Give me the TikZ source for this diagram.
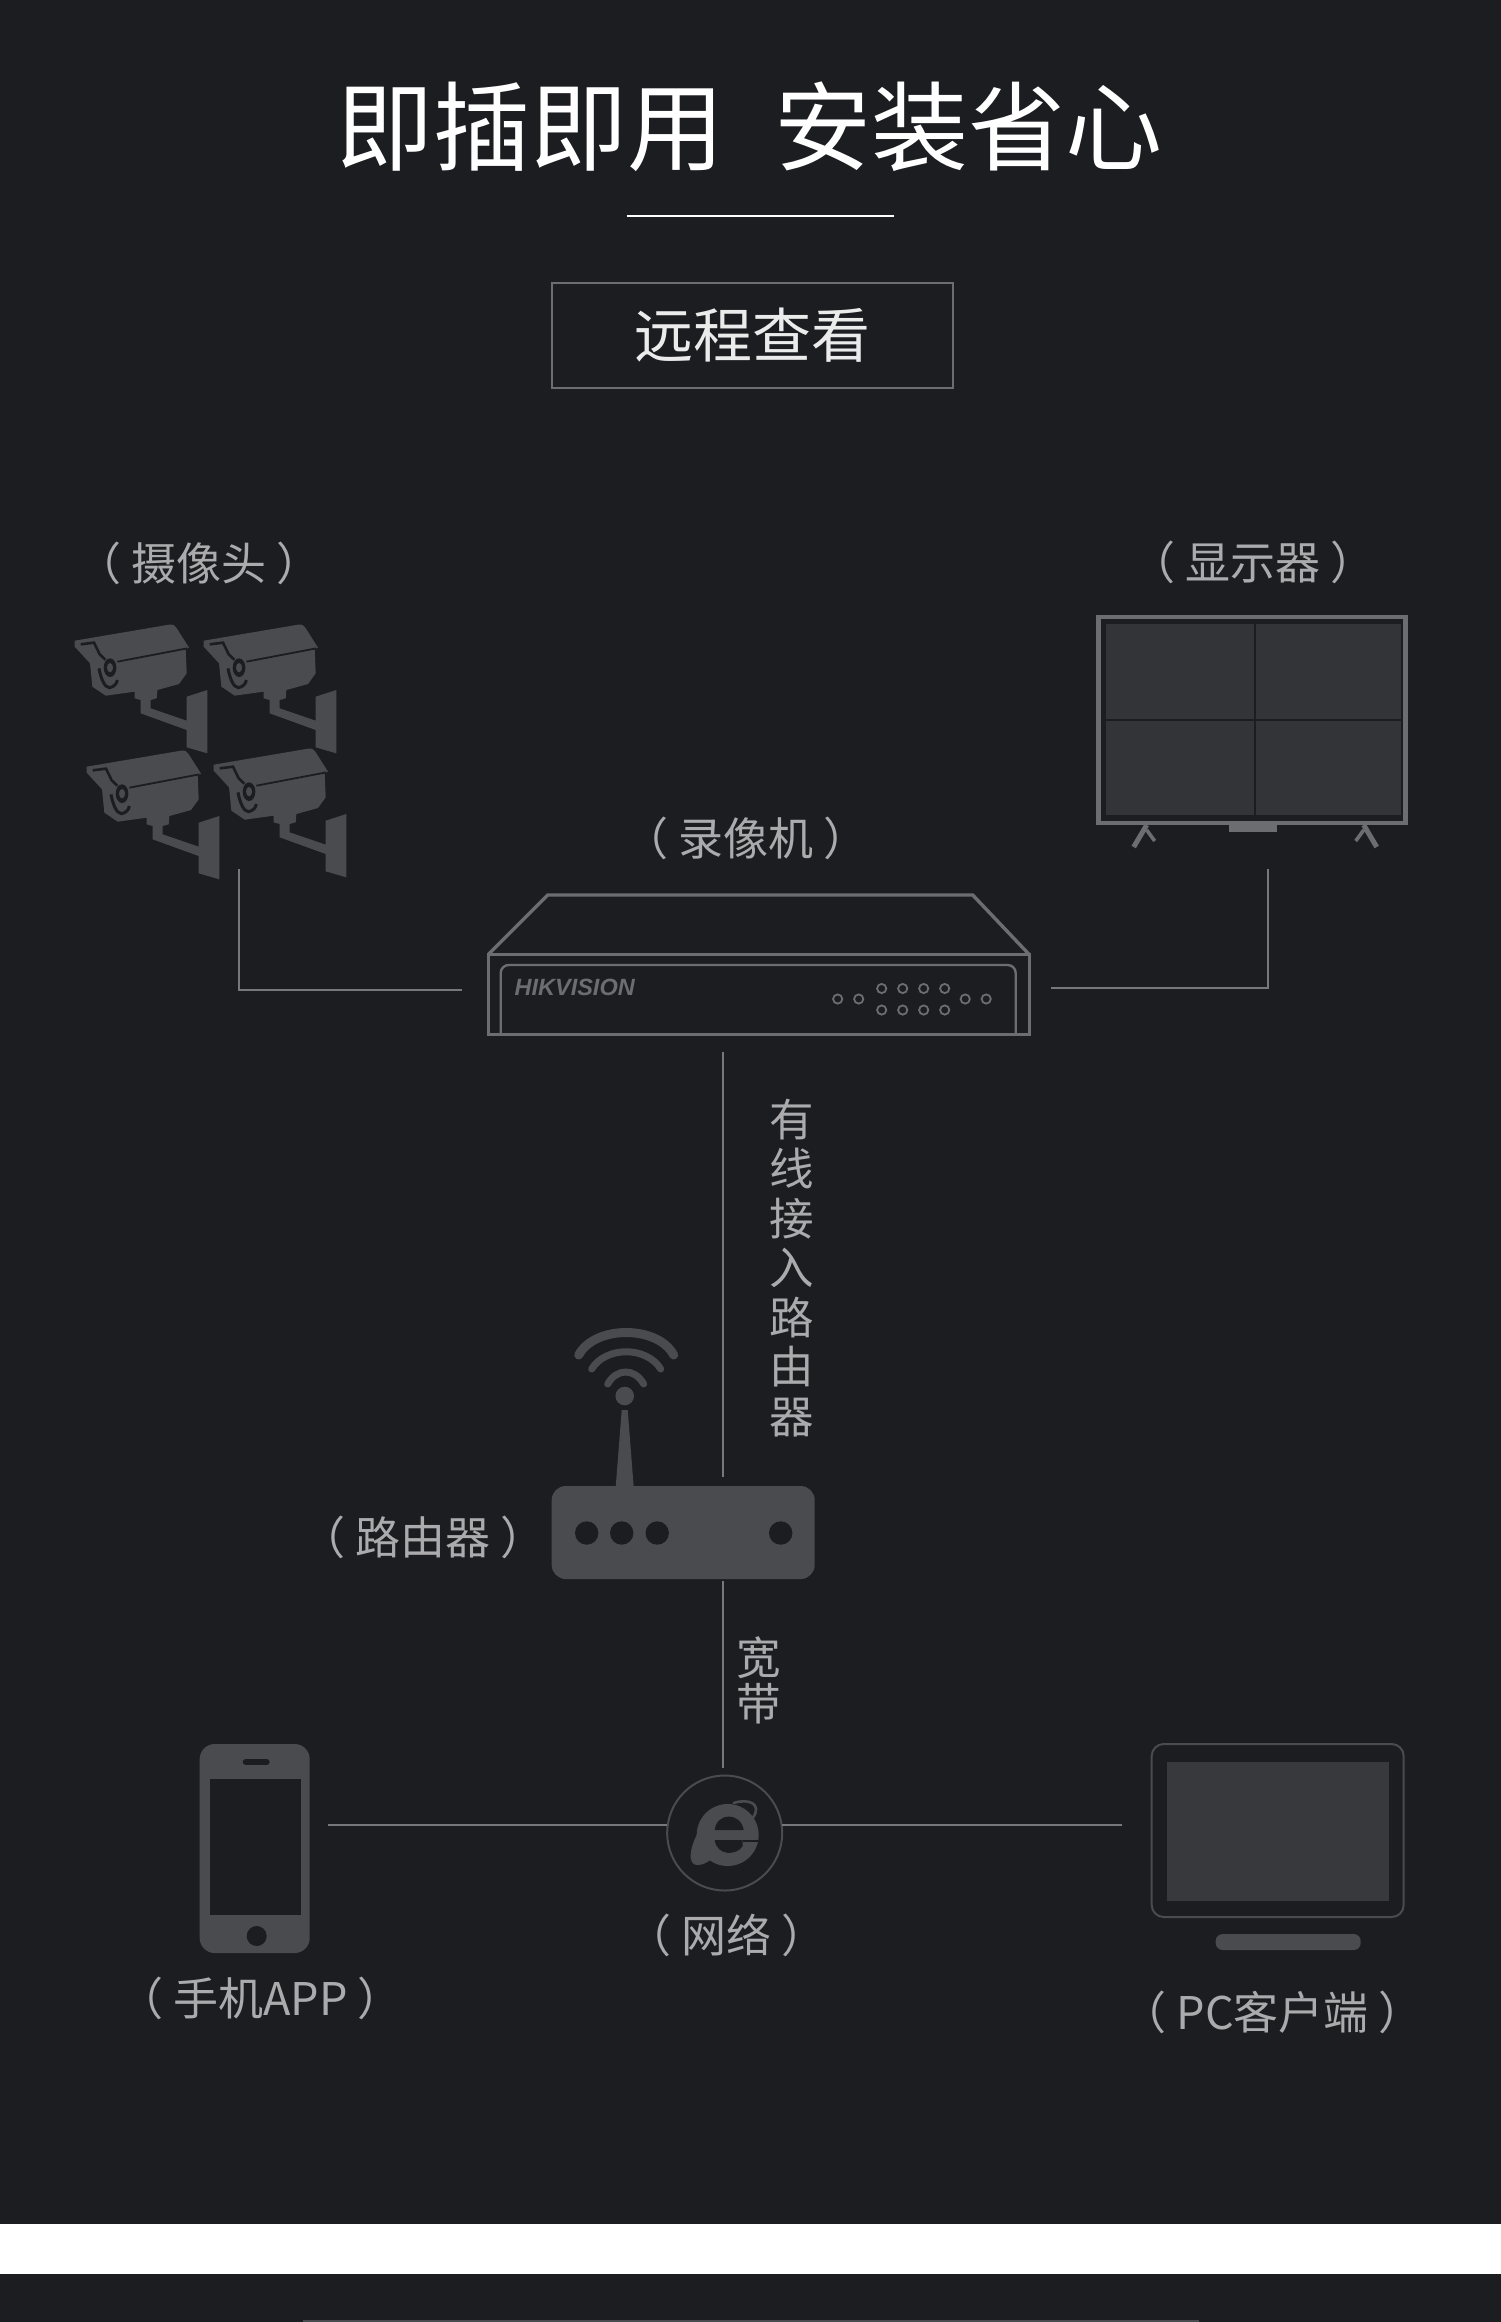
\documentclass[tikz,border=0pt]{standalone}
\usepackage{fontspec}
\setmainfont{Noto Sans CJK SC}
\newfontfamily\logofont{Liberation Sans}
\usetikzlibrary{positioning}
\definecolor{bgdark}{HTML}{1C1D21}
\definecolor{icongray}{HTML}{4A4B4F}
\definecolor{linegray}{HTML}{77787B}
\definecolor{framegray}{HTML}{6C6D70}
\definecolor{textgray}{HTML}{ABABAD}
\definecolor{screengray}{HTML}{333438}
\tikzstyle{devlabel} = [text=textgray, font=\fontsize{45}{50}\selectfont, inner sep=0pt, outer sep=0pt]
\tikzstyle{vlabel} = [devlabel, align=center]
\tikzstyle{link} = [draw=linegray, line width=1.8pt]
\tikzstyle{frame} = [draw=framegray, line width=3.4pt, line join=miter]
\tikzstyle{iconfill} = [fill=icongray, draw=none]
\tikzstyle{hole} = [fill=bgdark, draw=none]
\tikzstyle{led} = [draw=framegray, line width=1.8pt, fill=none]
\tikzstyle{box} = [rectangle, inner sep=0pt, outer sep=0pt]
\tikzset{
    pics/cctv/.style={code={
        \begin{scope}[scale=1/3]
            \fill[icongray] (0,47) -- (283,-1) .. controls (295,-3) and (302,2) .. (305,8) -- (343,68) -- (333,73) -- (336,145) -- (313,177) -- (248,195) -- (246,220) -- (228,225) -- (228,250) -- (336,287) -- (336,215) -- (398,195) -- (398,385) -- (336,367) -- (336,315) -- (198,265) -- (198,225) -- (180,220) -- (180,200) -- (93,212) -- (53,185) -- (46,115) -- (0,65) -- cycle;
            \draw[bgdark, line width=1.8pt] (128,110) -- (338,70);
            \draw[bgdark, line width=2.6pt] (18,58) -- (58,53) -- (75,88) -- (92,104);
            \draw[bgdark, line width=3pt] (73,130) .. controls (78,160) and (90,188) .. (104,188) .. controls (116,186) and (126,178) .. (128,165);
            \fill[bgdark] (106,128) circle [x radius=19, y radius=28];
            \fill[icongray] (106,128) circle [x radius=9, y radius=14];
        \end{scope}
    }}
}

\begin{document}
\begin{tikzpicture}[x=1pt, y=-1pt]
    \useasboundingbox (-0.7,0) rectangle (1499.3,2322);
    \fill[bgdark] (-4,-4) rectangle (1504,2326);
    \fill[white] (-4,2224) rectangle (1504,2274);
    \fill[icongray] (302,2320) rectangle (1198,2326);

    \node[box, text=white, font=\fontsize{97}{100}\selectfont] (TITLE) at (749,127) {即插即用 \hspace{28pt}安装省心};
    \draw[white, line width=1.6pt] (626,216) -- (893,216);
    \node[box, draw=framegray, line width=1.6pt, minimum width=401pt, minimum height=105pt, text=white!92!black, font=\fontsize{59}{60}\selectfont] (REMOTE) at (751.5,335.5) {\raisebox{1pt}{远程查看}};

    \node[devlabel] (CAMLABEL) at (198,563) {（ 摄像头 ）};
    \foreach \camx/\camy in {74/625, 203/625, 86/751, 213/749}
        \pic at (\camx,\camy) {cctv};

    \node[devlabel] (MONITORLABEL) at (1252,562) {（ 显示器 ）};
    \node[box, frame, line width=4.5pt, minimum width=307pt, minimum height=206pt] (MONITOR) at (1251.5,720) {};
    \fill[screengray] (1105,624) rectangle (1400,815);
    \draw[bgdark, line width=1.6pt] (1254,624) -- (1254,815);
    \draw[bgdark, line width=1.6pt] (1105,720) -- (1400,720);
    \fill[framegray] (1228,825) rectangle (1276,832);
    \foreach \footx/\footdir in {1146/-1, 1363/1} {
        \draw[framegray, line width=5pt] (\footx,825) -- +(\footdir*13,22);
        \draw[framegray, line width=3.6pt] (\footx,830) -- +(-\footdir*8,11);
    }

    \node[devlabel] (NVRLABEL) at (745,838) {（ 录像机 ）};
    \node[box, frame, minimum width=541pt, minimum height=80pt] (NVR) at (758,994.5) {};
    \draw[frame] (NVR.north west) -- (547,895) -- (972,895) -- (NVR.north east);
    \draw[framegray, line width=2.4pt, rounded corners=8pt] (500,1035) -- (500,965) -- (1015,965) -- (1015,1035);
    \node[box, text=framegray, font=\logofont\bfseries\itshape\fontsize{23.5}{24}\selectfont] (BRAND) at (574,987) {HIKVISION};
    \foreach \ledx in {837, 858, 964.5, 985.5}
        \draw[led] (\ledx,999) circle (4.6);
    \foreach \ledx in {881, 902, 923, 944} {
        \draw[led] (\ledx,988.5) circle (4.6);
        \draw[led] (\ledx,1010) circle (4.6);
    }

    \node[vlabel, font=\fontsize{44.5}{49.5}\selectfont] (WIREDLABEL) at (791,1268) {有\\线\\接\\入\\路\\由\\器};

    \node[devlabel] (ROUTERLABEL) at (422,1537) {（ 路由器 ）};
    \node[box, iconfill, rounded corners=14pt, minimum width=263pt, minimum height=93pt] (ROUTER) at (682.5,1532.5) {};
    \foreach \holex in {586, 621, 656.5, 780}
        \fill[hole] (\holex,1533) circle (11.7);
    \fill[icongray] (615,1487) -- (621,1410) -- (627,1410) -- (633,1487) -- cycle;
    \fill[icongray] (624,1396) circle (9.3);
    \draw[icongray, line width=9pt, line cap=round] (578,1355) .. controls (594,1325) and (657,1325) .. (673,1355);
    \draw[icongray, line width=7pt, line cap=round] (591,1369) .. controls (605,1346) and (646,1346) .. (660,1369);
    \draw[icongray, line width=7pt, line cap=round] (607,1384) .. controls (616,1368) and (634,1368) .. (643,1384);

    \node[vlabel, font=\fontsize{44.5}{46}\selectfont] (BANDLABEL) at (758,1680) {宽\\带};

    \node[box, draw=icongray, line width=2pt, circle, minimum size=115pt] (GLOBE) at (724,1833) {};
    \fill[icongray] (727,1835) circle (31);
    \fill[bgdark] (714,1830) .. controls (716,1812) and (740,1812) .. (743,1830) -- cycle;
    \fill[bgdark] (714,1840) .. controls (716,1856) and (736,1856) .. (742,1846) -- (742,1840) -- cycle;
    \fill[bgdark] (742,1840) -- (760,1840) -- (760,1842) -- (742,1842) -- cycle;
    \draw[icongray, line width=2.6pt, line cap=round] (733,1803) .. controls (748,1798) and (762,1804) .. (752,1818);
    \fill[icongray] (702,1825) .. controls (688,1845) and (686,1866) .. (697,1865) .. controls (702,1865) and (708,1862) .. (712,1858) -- (700,1850) -- cycle;
    \node[devlabel] (NETLABEL) at (726,1935) {（ 网络 ）};

    \node[box, iconfill, rounded corners=15pt, minimum width=110pt, minimum height=209pt] (PHONE) at (254,1848.5) {};
    \fill[hole] (209,1779) rectangle (300,1915);
    \draw[hole, draw=bgdark, line width=6pt, line cap=round] (245,1762) -- (266,1762);
    \fill[hole] (256,1936) circle (10);
    \node[devlabel] (PHONELABEL) at (260,1998) {（ 手机APP ）};

    \node[box, draw=icongray, line width=2pt, rounded corners=12pt, minimum width=252pt, minimum height=173pt] (PC) at (1277,1830.5) {};
    \fill[screengray!80!icongray] (1166,1762) rectangle (1388,1901);
    \fill[icongray, rounded corners=7pt] (1215,1934) rectangle (1360,1950);
    \node[devlabel] (PCLABEL) at (1272,2012) {（ PC客户端 ）};

    \coordinate (TRUNK) at (722,1200);
    \coordinate (HUB) at (500,1825);
    \coordinate (CAMTAIL) at (238,869);
    \coordinate (NVRLEFT) at (461,990);
    \coordinate (MONITORTAIL) at (1267,869);
    \coordinate (NVRRIGHT) at (1050,988);
    \path[link] (CAMTAIL) |- (NVRLEFT);
    \path[link] (MONITORTAIL) |- (NVRRIGHT);
    \path[link, shorten <=17pt, shorten >=9pt] (TRUNK |- NVR.south) -- (TRUNK |- ROUTER.north);
    \path[link, shorten <=2pt, shorten >=8pt] (TRUNK |- ROUTER.south) -- (TRUNK |- GLOBE.north);
    \path[link, shorten <=18pt] (PHONE.east |- HUB) -- (GLOBE.west |- HUB);
    \path[link, shorten >=30pt] (GLOBE.east |- HUB) -- (PC.west |- HUB);
\end{tikzpicture}
\end{document}
